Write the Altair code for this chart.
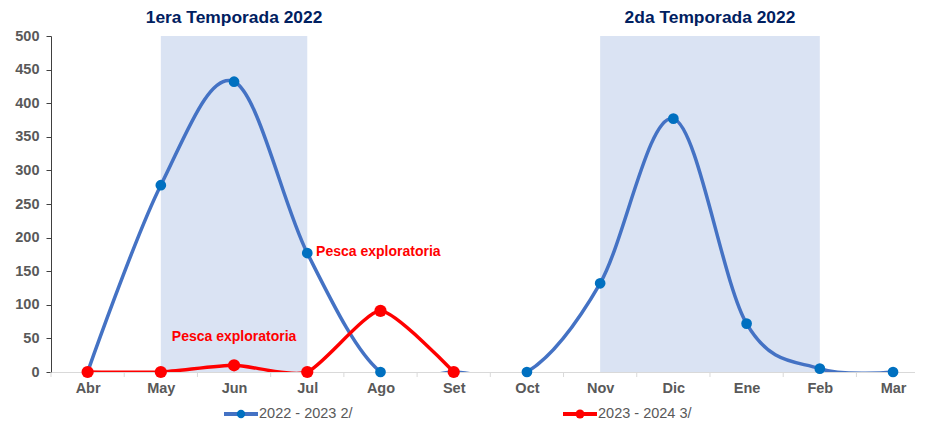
import altair as alt
import pandas as pd

# ---- data ----
months = ["Abr", "May", "Jun", "Jul", "Ago", "Set", "Oct", "Nov", "Dic", "Ene", "Feb", "Mar"]
s1_name = "2022 - 2023 2/"
s1_vals = [0, 278, 432, 177, 0, 0, 0, 132, 377, 72, 5, 0]
s2_name = "2023 - 2024 3/"
s2_vals = [0, 0, 10, 0, 91, 0, None, None, None, None, None, None]
season_titles = ["1era Temporada 2022", "2da Temporada 2022"]
season_start = [1, 7]
season_end = [3, 10]
season_title_x = [2, 8.5]
note_text = ["Pesca exploratoria", "Pesca exploratoria"]
note_x = [3.12, 1.15]
note_y = [178, 52]
y_ticks = list(range(0, 501, 50))

FONT = "Liberation Sans"
W, H = 864, 336

df1 = pd.DataFrame({"i": list(range(len(months))), "v": s1_vals})
df2 = pd.DataFrame({"i": list(range(len(months))), "v": s2_vals}).dropna()
df_season = pd.DataFrame({"s": season_start, "e": season_end, "tx": season_title_x,
                          "t": season_titles, "top": [500, 500], "bot": [0, 0]})
df_note = pd.DataFrame({"x": note_x, "y": note_y, "t": note_text})
df_bound = pd.DataFrame({"b": [i - 0.5 for i in range(len(months))]})

label_expr = "[" + ",".join(f"'{m}'" for m in months) + "][datum.value]"

xscale = alt.Scale(domain=[-0.5, 11.3], nice=False, zero=False)
yscale = alt.Scale(domain=[0, 500], nice=False)

x_axis = alt.Axis(values=list(range(len(months))), labelExpr=label_expr, ticks=False,
                  domainColor="#D9D9D9", domainWidth=1, grid=False, title=None,
                  labelFont=FONT, labelFontWeight="bold", labelColor="#595959",
                  labelFontSize=14.5, labelPadding=9, labelFlush=False, labelOverlap=False)
y_axis = alt.Axis(values=y_ticks, grid=False, title=None, domainColor="#404040",
                  tickColor="#404040", tickSize=5, labelPadding=7, labelOverlap=False,
                  labelFont=FONT, labelFontWeight="bold", labelColor="#595959",
                  labelFontSize=14.5)

X = lambda f: alt.X(f, scale=xscale, axis=x_axis)
Y = lambda f: alt.Y(f, scale=yscale, axis=y_axis)

shade = alt.Chart(df_season).mark_rect(color="#DAE3F3").encode(
    x=X("s:Q"), x2="e:Q", y=Y("top:Q"), y2="bot:Q")

titles = alt.Chart(df_season).mark_text(font=FONT, fontSize=17.4, fontWeight="bold",
                                        color="#002060", baseline="middle").encode(
    x=X("tx:Q"), y=alt.value(-18), text="t:N")

bticks = alt.Chart(df_bound).mark_rule(color="#D9D9D9").encode(
    x=X("b:Q"), y=alt.value(H), y2=alt.value(H + 5))

line1 = alt.Chart(df1).mark_line(color="#4472C4", strokeWidth=3.5, interpolate="cardinal",
                                 clip=True).encode(x=X("i:Q"), y=Y("v:Q"))
pts1 = alt.Chart(df1).mark_circle(size=115, color="#0070C0", opacity=1).encode(
    x=X("i:Q"), y=Y("v:Q"))
line2 = alt.Chart(df2).mark_line(color="#FF0000", strokeWidth=3.5, interpolate="cardinal",
                                 tension=0.4, clip=True).encode(x=X("i:Q"), y=Y("v:Q"))
pts2 = alt.Chart(df2).mark_circle(size=150, color="#FF0000", opacity=1).encode(
    x=X("i:Q"), y=Y("v:Q"))

notes = alt.Chart(df_note).mark_text(font=FONT, fontSize=14, fontWeight="bold", color="#FF0000",
                                     align="left", baseline="middle").encode(
    x=X("x:Q"), y=Y("y:Q"), text="t:N")

# legend
leg_y = 378
def legend_item(name, x0, line_color, dot_color, dot_size):
    d = pd.DataFrame({"n": [name]})
    r = alt.Chart(d).mark_rule(color=line_color, strokeWidth=4).encode(
        x=alt.value(x0), x2=alt.value(x0 + 34), y=alt.value(leg_y))
    c = alt.Chart(d).mark_circle(color=dot_color, size=dot_size, opacity=1).encode(
        x=alt.value(x0 + 17), y=alt.value(leg_y))
    t = alt.Chart(d).mark_text(font=FONT, fontSize=14.5, color="#595959", align="left",
                               baseline="middle").encode(
        x=alt.value(x0 + 35), y=alt.value(leg_y), text="n:N")
    return [r, c, t]

leg = legend_item(s1_name, 173, "#4472C4", "#0070C0", 70) + \
      legend_item(s2_name, 512, "#FF0000", "#FF0000", 80)

chart = alt.layer(shade, bticks, line1, pts1, line2, pts2, notes, titles, *leg).properties(
    width=W, height=H,
    background="white",
    autosize=alt.AutoSizeParams(type="none"),
    padding={"left": 43, "top": 28, "right": 0, "bottom": 50},
).configure_view(stroke=None)

chart.save("out.html", embed_options={"renderer": "svg", "actions": False})
